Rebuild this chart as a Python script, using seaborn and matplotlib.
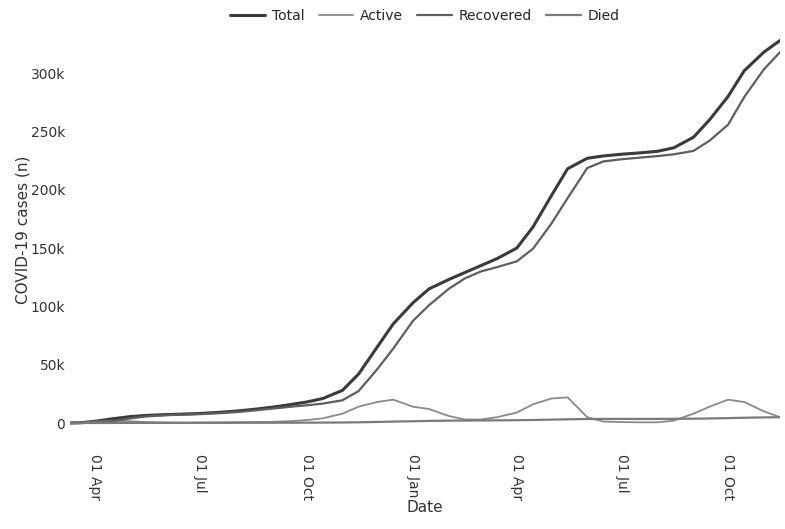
import pandas as pd
import numpy as np
import matplotlib
matplotlib.use('Agg')
import matplotlib.pyplot as plt
import matplotlib.dates as mdates
from matplotlib.ticker import FuncFormatter
import seaborn as sns

# dates (roughly twice a month)
dates = ['2020-03-10', '2020-03-20', '2020-04-01', '2020-04-15', '2020-05-01', '2020-05-15',
         '2020-06-01', '2020-06-15', '2020-07-01', '2020-07-15', '2020-08-01', '2020-08-15',
         '2020-09-01', '2020-09-15', '2020-10-01', '2020-10-15', '2020-11-01', '2020-11-15',
         '2020-12-01', '2020-12-15', '2021-01-01', '2021-01-15', '2021-02-01', '2021-02-15',
         '2021-03-01', '2021-03-15', '2021-04-01', '2021-04-15', '2021-05-01', '2021-05-15',
         '2021-06-01', '2021-06-15', '2021-07-01', '2021-07-15', '2021-08-01', '2021-08-15',
         '2021-09-01', '2021-09-15', '2021-10-01', '2021-10-15', '2021-11-01', '2021-11-15']

# case counts in thousands
total = [0, 0.3, 1.5, 3.5, 5.5, 6.5, 7.2, 7.6, 8.2, 9.0, 10.2, 11.6,
         13.5, 15.5, 18, 21, 28, 42, 65, 85, 103, 115, 123, 129,
         135, 141, 150, 168, 195, 218, 227, 229, 230.5, 231.5, 233, 236,
         245, 260, 280, 302, 318, 328]
active = [0, 0.3, 1.2, 2.0, 1.5, 0.8, 0.4, 0.3, 0.4, 0.5, 0.7, 0.8,
          1.0, 1.5, 2.5, 4, 8, 14, 18, 20, 14, 12, 6, 3,
          3, 5, 9, 16, 21, 22, 5, 1.2, 0.8, 0.6, 0.6, 2,
          8, 14, 20, 18, 10, 5]
recovered = [0, 0, 0.3, 1.45, 3.9, 5.6, 6.7, 7.2, 7.6, 8.3, 9.3, 10.6,
             12.3, 13.75, 15.2, 16.65, 19.5, 27.4, 46, 63.8, 87.5, 101, 115, 124,
             130, 133.7, 138.6, 149.4, 171, 192.8, 218.6, 224.3, 226.2, 227.4, 228.9, 230.4,
             233.3, 242.1, 255.8, 279.5, 303.2, 318]
died = [0, 0, 0.02, 0.05, 0.1, 0.12, 0.13, 0.14, 0.15, 0.16, 0.18, 0.2,
        0.22, 0.25, 0.3, 0.35, 0.45, 0.6, 0.9, 1.2, 1.5, 1.8, 2.0, 2.1,
        2.2, 2.3, 2.4, 2.6, 2.9, 3.2, 3.4, 3.5, 3.5, 3.5, 3.5, 3.6,
        3.7, 3.9, 4.2, 4.5, 4.8, 5.0]

series = {'Total': total, 'Active': active, 'Recovered': recovered, 'Died': died}
frames = []
for name, vals in series.items():
    frames.append(pd.DataFrame({'Date': pd.to_datetime(dates),
                                'cases': np.array(vals) * 1000, 'Status': name}))
data = pd.concat(frames)

palette = {'Total': '#3a3a3a', 'Active': '#8a8a8a', 'Recovered': '#5e5e5e', 'Died': '#7a7a7a'}
widths = {'Total': 2.2, 'Active': 1.3, 'Recovered': 1.6, 'Died': 1.6}

sns.set_style('white')
plt.rcParams['font.family'] = ['DejaVu Sans']

fig = plt.figure(figsize=(7.85, 5.29), dpi=100)
ax = fig.add_axes([70 / 785, 99 / 529, 710 / 785, 400 / 529])

for name in series:
    sns.lineplot(data=data[data['Status'] == name], x='Date', y='cases', color=palette[name],
                 linewidth=widths[name], label=name, ax=ax)

ax.set_xlim(pd.Timestamp('2020-03-10'), pd.Timestamp('2021-11-15'))
ax.set_ylim(-6000, 337000)
ax.set_yticks(np.arange(0, 300001, 50000))
ax.yaxis.set_major_formatter(FuncFormatter(lambda v, p: '0' if v == 0 else f'{int(v / 1000)}k'))
ax.xaxis.set_major_locator(mdates.MonthLocator(bymonth=[1, 4, 7, 10]))
ax.xaxis.set_major_formatter(mdates.DateFormatter('%d %b'))
plt.setp(ax.get_xticklabels(), rotation=-90, ha='center', va='top')
ax.tick_params(axis='both', labelsize=10, colors='#333333', length=0)
ax.tick_params(axis='x', pad=17)

for s in ax.spines.values():
    s.set_visible(False)

ax.set_xlabel('Date', fontsize=11, color='#333333', labelpad=0)
ax.set_ylabel('COVID-19 cases (n)', fontsize=11, color='#333333', labelpad=0)

ax.legend(loc='center', bbox_to_anchor=(0.5, 1 + 14 / 400), ncol=4, frameon=False,
          fontsize=10, handlelength=2.5, columnspacing=1.0, handletextpad=0.5)

fig.savefig('out.png', dpi=100)
